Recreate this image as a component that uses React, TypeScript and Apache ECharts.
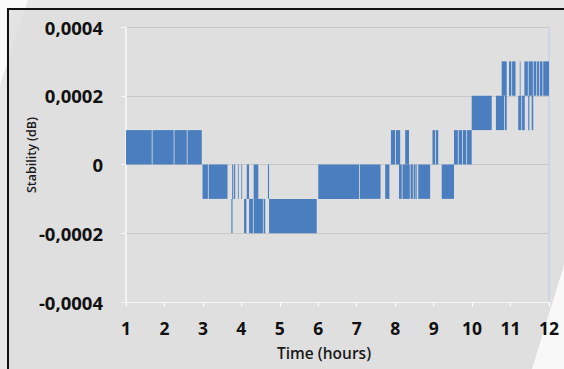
import React, { useEffect, useRef } from "react";
import * as echarts from "echarts";

// Time (hours) intervals where the quantised signal fills each band (dB)
const bandZeroToP1: number[][] = [
  [1.0, 1.67], [1.69, 2.24], [2.26, 2.58], [2.6, 2.97],
  [7.89, 8.0], [8.02, 8.13], [8.26, 8.36],
  [8.97, 9.04], [9.06, 9.12],
  [9.53, 9.63], [9.65, 9.74], [9.76, 9.85], [9.87, 9.99],
];
const bandM1ToZero: number[][] = [
  [2.99, 3.13], [3.15, 3.64],
  [3.76, 3.79], [3.81, 3.84], [3.91, 3.93], [4.0, 4.02], [4.14, 4.2], [4.32, 4.44], [4.69, 4.72],
  [6.0, 7.06], [7.08, 7.62],
  [7.74, 7.85],
  [8.1, 8.17], [8.19, 8.38], [8.4, 8.46], [8.48, 8.53], [8.55, 8.57], [8.6, 8.91],
  [9.21, 9.53],
];
const bandM2ToM1: number[][] = [
  [3.74, 3.77], [4.07, 4.13], [4.2, 4.3], [4.32, 4.56], [4.58, 4.62], [4.72, 5.96],
];
const bandP1ToP2: number[][] = [
  [9.99, 10.51], [10.62, 10.83], [10.85, 10.9],
  [11.2, 11.28], [11.3, 11.37], [11.46, 11.49], [11.55, 11.59],
];
const bandP2ToP3: number[][] = [
  [10.77, 10.9], [10.96, 11.02], [11.04, 11.13], [11.24, 11.26],
  [11.36, 11.45], [11.47, 11.58], [11.6, 11.67], [11.69, 11.74], [11.76, 11.83], [11.85, 12.0],
];
const bands: { low: number; high: number; spans: number[][] }[] = [
  { low: 0, high: 0.0001, spans: bandZeroToP1 },
  { low: -0.0001, high: 0, spans: bandM1ToZero },
  { low: -0.0002, high: -0.0001, spans: bandM2ToM1 },
  { low: 0.0001, high: 0.0002, spans: bandP1ToP2 },
  { low: 0.0002, high: 0.0003, spans: bandP2ToP3 },
];
const xTicks = [1, 2, 3, 4, 5, 6, 7, 8, 9, 10, 11, 12];
const yTicks = [-0.0004, -0.0002, 0, 0.0002, 0.0004];

const FONT = "'Open Sans', 'Noto Sans', sans-serif";

function fmtY(v: number): string {
  const n = Math.round(v * 1e4);
  if (n === 0) return "0";
  return (n < 0 ? "-" : "") + "0,000" + Math.abs(n);
}

export default function App() {
  const ref = useRef<HTMLDivElement>(null);
  useEffect(() => {
    if (!ref.current) return;
    const chart = echarts.init(ref.current, null, { renderer: "svg" });
    const data: number[][] = [];
    bands.forEach((b) => b.spans.forEach((s) => data.push([s[0], s[1], b.low, b.high])));
    const blue = "#4A7EBE";
    chart.setOption({
      animation: false,
      backgroundColor: "#e7e7e7",
      graphic: [
        { type: "polygon", z: -10, shape: { points: [[0, 0], [28, 0], [0, 85]] }, style: { fill: "#fafafa" } },
        {
          type: "rect", z: -5,
          shape: { x: 8, y: 9, width: 600, height: 400 },
          style: { fill: "rgba(221,221,221,0.8)", stroke: "#111", lineWidth: 2 },
        },
        { type: "polygon", z: -4, shape: { points: [[564, 265], [564, 369], [532, 369]] }, style: { fill: "#f8f8f8" } },
        {
          type: "text", z: 50, left: 277, top: 345,
          style: { text: "Time (hours)", font: `600 15.5px ${FONT}`, fill: "#1a1a1a" },
        },
        {
          type: "text", z: 50, x: 31, y: 155, rotation: Math.PI / 2,
          style: { text: "Stability (dB)", x: 0, y: 0, align: "center", verticalAlign: "middle", font: `600 12.5px ${FONT}`, fill: "#1a1a1a" },
        },
      ],
      grid: { left: 126, right: 15, top: 27, bottom: 67 },
      xAxis: {
        type: "value",
        min: xTicks[0],
        max: xTicks[xTicks.length - 1],
        interval: 1,
        axisLine: { show: true, onZero: false, lineStyle: { color: "#f6f6f6", width: 1 } },
        axisTick: { show: true, length: 5, lineStyle: { color: "#fbfbfb" } },
        axisLabel: { margin: 17, color: "#111", fontFamily: FONT, fontWeight: "bold", fontSize: 17.5 },
        splitLine: { show: false },
      },
      yAxis: [
        {
          type: "value",
          min: yTicks[0],
          max: yTicks[yTicks.length - 1],
          interval: 0.0002,
          axisLine: { show: true, lineStyle: { color: "#fafafa", width: 1.5 } },
          axisTick: { show: true, length: 5, lineStyle: { color: "#f6f6f6" } },
          axisLabel: { margin: 23, color: "#111", fontFamily: FONT, fontWeight: "bold", fontSize: 18.5, formatter: fmtY },
          splitLine: { show: true, lineStyle: { color: "#c9c9c9", width: 1 } },
        },
        {
          type: "value",
          position: "right",
          min: yTicks[0],
          max: yTicks[yTicks.length - 1],
          interval: 0.0002,
          axisLine: { show: true, lineStyle: { color: "#c6d3e6", width: 1.5 } },
          axisTick: { show: false },
          axisLabel: { show: false },
          splitLine: { show: false },
        },
      ],
      series: [
        {
          type: "custom",
          xAxisIndex: 0,
          yAxisIndex: 0,
          encode: { x: [0, 1], y: [2, 3] },
          data,
          renderItem: (params: any, api: any) => {
            const p0 = api.coord([api.value(0), api.value(3)]);
            const p1 = api.coord([api.value(1), api.value(2)]);
            return {
              type: "rect",
              shape: { x: p0[0], y: p0[1], width: p1[0] - p0[0], height: p1[1] - p0[1] },
              style: { fill: blue },
            };
          },
        },
      ],
    });
    return () => chart.dispose();
  }, []);
  return (
    <div style={{ position: "fixed", left: 0, top: 0, width: 564, height: 369 }}>
      <div ref={ref} style={{ width: 564, height: 369 }} />
    </div>
  );
}
